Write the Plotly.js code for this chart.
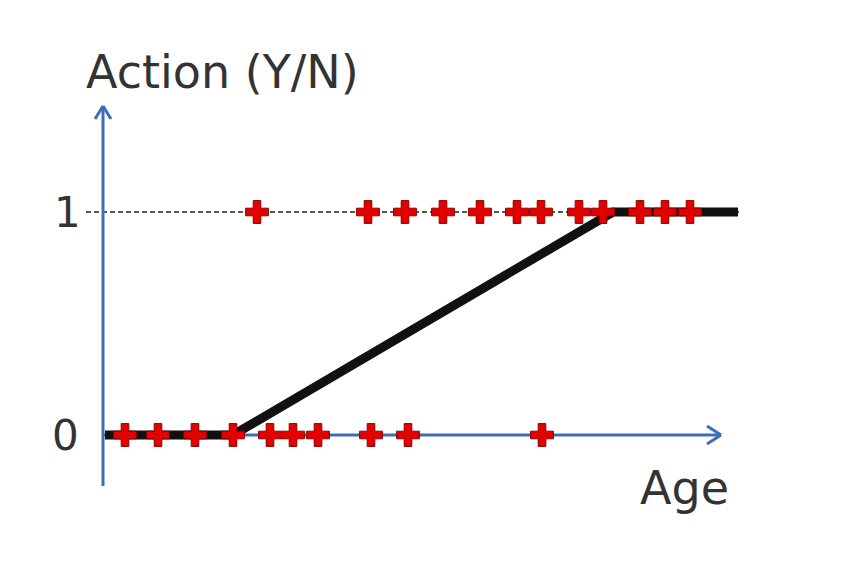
<!DOCTYPE html>
<html><head><meta charset="utf-8">
<script src="https://cdn.plot.ly/plotly-3.0.1.min.js"></script>
<style>html,body{margin:0;padding:0;background:#fff}#c{width:866px;height:576px}</style>
</head><body><div id="c"></div>
<script>
// Data (age in arbitrary units, action 0/1)
const ageNo = [2.2, 5.5, 9.2, 13.0, 16.7, 19.0, 21.5, 26.8, 30.5, 43.9];
const actionNo = [0, 0, 0, 0, 0, 0, 0, 0, 0, 0];
const ageYes = [15.4, 26.5, 30.2, 34.0, 37.7, 41.4, 43.8, 47.6, 50.0, 53.7, 56.2, 58.7];
const actionYes = [1, 1, 1, 1, 1, 1, 1, 1, 1, 1, 1, 1];
const fitAge = [0.2, 13.0, 51.0, 63.5];
const fitAction = [0, 0, 1, 1];

const W = 866, H = 576;
const px = v => v / W, py = v => 1 - v / H;
const blue = '#3d6fb6';

const mk = {symbol: 'cross', size: 19, color: '#e50000', line: {color: '#8b0000', width: 1}};
const traces = [
  {x: fitAge, y: fitAction, mode: 'lines', line: {color: '#111', width: 9}, hoverinfo: 'skip'},
  {x: ageNo, y: actionNo, mode: 'markers', marker: mk},
  {x: ageYes, y: actionYes, mode: 'markers', marker: mk}
];

const shapes = [
  // dashed guide at y=1
  {type: 'line', xref: 'paper', yref: 'paper', x0: px(86), x1: px(740), y0: py(212), y1: py(212), line: {color: '#222', width: 1.4, dash: '5px,3px'}, layer: 'below'},
  // x axis arrow
  {type: 'line', xref: 'paper', yref: 'paper', x0: px(103), x1: px(721), y0: py(435), y1: py(435), line: {color: blue, width: 3}, layer: 'below'},
  {type: 'line', xref: 'paper', yref: 'paper', x0: px(707), x1: px(721), y0: py(426), y1: py(435), line: {color: blue, width: 3}, layer: 'below'},
  {type: 'line', xref: 'paper', yref: 'paper', x0: px(707), x1: px(721), y0: py(444), y1: py(435), line: {color: blue, width: 3}, layer: 'below'},
  // y axis arrow
  {type: 'line', xref: 'paper', yref: 'paper', x0: px(103), x1: px(103), y0: py(486), y1: py(106), line: {color: blue, width: 3}, layer: 'below'},
  {type: 'line', xref: 'paper', yref: 'paper', x0: px(95), x1: px(103), y0: py(119), y1: py(106), line: {color: blue, width: 3}, layer: 'below'},
  {type: 'line', xref: 'paper', yref: 'paper', x0: px(111), x1: px(103), y0: py(119), y1: py(106), line: {color: blue, width: 3}, layer: 'below'}
];

const font = {family: '"DejaVu Sans", sans-serif', color: '#333'};
const annotations = [
  {text: 'Action (Y/N)', xref: 'paper', yref: 'paper', x: px(84), y: py(72), xanchor: 'left', yanchor: 'middle', showarrow: false, font: Object.assign({size: 46}, font)},
  {text: 'Age', xref: 'paper', yref: 'paper', x: px(731), y: py(488), xanchor: 'right', yanchor: 'middle', showarrow: false, font: Object.assign({size: 46}, font)},
  {text: '1', xref: 'paper', yref: 'paper', x: px(67), y: py(212), xanchor: 'center', yanchor: 'middle', showarrow: false, font: Object.assign({size: 42}, font)},
  {text: '0', xref: 'paper', yref: 'paper', x: px(65), y: py(435), xanchor: 'center', yanchor: 'middle', showarrow: false, font: Object.assign({size: 42}, font)}
];

const layout = {
  width: W, height: H,
  margin: {l: 0, r: 0, t: 0, b: 0},
  paper_bgcolor: '#fff', plot_bgcolor: '#fff',
  showlegend: false,
  xaxis: {range: [-10.3, 76.3], visible: false, fixedrange: true},
  yaxis: {range: [(435 - 576) / 223, 435 / 223], visible: false, fixedrange: true},
  shapes: shapes,
  annotations: annotations
};

Plotly.newPlot('c', traces, layout, {displayModeBar: false, staticPlot: true});
</script>
</body></html>
